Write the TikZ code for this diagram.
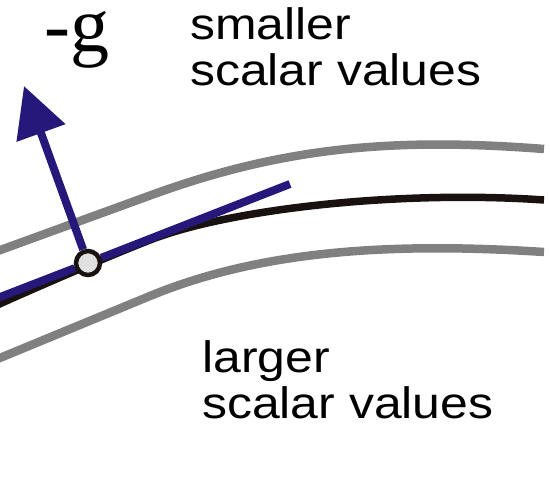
\documentclass[tikz,border=0pt]{standalone}
\usepackage{fontspec}
\setmainfont{Liberation Sans}
\newfontfamily\lblfont[FakeStretch=1.134]{Liberation Sans}
\newfontfamily\gfont{Liberation Serif}
\usetikzlibrary{arrows.meta}
\definecolor{curveblue}{RGB}{38,24,122}
\definecolor{levelgray}{RGB}{128,128,128}
\definecolor{curveblack}{RGB}{25,18,16}
\definecolor{pointfill}{RGB}{224,224,224}
\begin{document}
\begin{tikzpicture}[x=1pt,y=-1pt,
  level/.style={draw=levelgray, line width=8.5pt},
  isoline/.style={draw=curveblack, line width=7.5pt},
  tangent/.style={draw=curveblue, line width=8pt},
  gradarrow/.style={draw=curveblue, fill=curveblue, line width=8pt, -{Triangle[length=50pt,width=50pt]}},
  point/.style={circle, draw=curveblack, fill=pointfill, line width=4.5pt, minimum size=24pt, inner sep=0pt},
  lbltext/.style={font=\lblfont\fontsize{44}{46}\selectfont, align=left, inner sep=0pt, anchor=north west}
]
\useasboundingbox (0,0) rectangle (550,498);
% level curves
\draw[level] (-5,252) -- (150,195.5) .. controls (280,148) and (390,137) .. (544,149);
\draw[level] (-5,360) -- (150,296) .. controls (260,250.6) and (390,242) .. (544,252);
\draw[isoline] (-5,306) .. controls (40,285.7) and (110,255.6) .. (150,240)
  .. controls (230,208.8) and (400,190) .. (544,200);
% point, tangent and gradient
\coordinate (L) at (-5,299);
\coordinate (R) at (290,184);
\coordinate (tip) at (24,86);
\node[point] (P) at (88,263) {};
\draw[tangent] (P) -- (L);
\draw[tangent] (P) -- (R);
\draw[gradarrow] (P) -- (tip);
% labels
\node[anchor=base west, inner sep=0pt, font=\gfont\fontsize{78}{78}\selectfont] (g) at (44,51) {-g};
\node[lbltext] (small) at (190,7.5) {smaller\\scalar values};
\node[lbltext] (large) at (202,340.5) {larger\\scalar values};
\end{tikzpicture}
\end{document}
